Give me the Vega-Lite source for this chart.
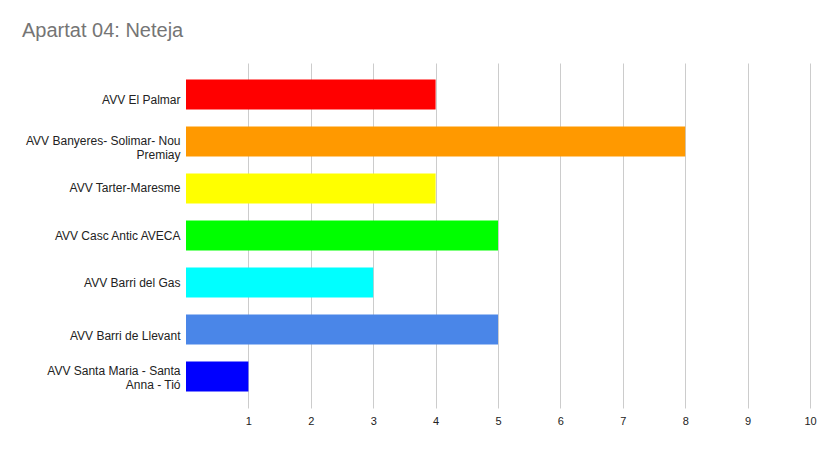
{
  "$schema": "https://vega.github.io/schema/vega-lite/v6.json",
  "width": 624,
  "height": 345,
  "autosize": {"type": "none"},
  "padding": {"left": 186, "top": 63, "right": 22, "bottom": 43},
  "background": "white",
  "title": {
    "text": "Apartat 04: Neteja",
    "anchor": "start",
    "frame": "group",
    "dx": -164,
    "offset": 22,
    "font": "Liberation Sans",
    "fontSize": 20,
    "fontWeight": "normal",
    "color": "#757575"
  },
  "data": {
    "values": [
      {"label": "AVV El Palmar", "valor": 4, "color": "#ff0000"},
      {"label": "AVV Banyeres- Solimar- Nou|Premiay", "valor": 8, "color": "#ff9900"},
      {"label": "AVV Tarter-Maresme", "valor": 4, "color": "#ffff00"},
      {"label": "AVV Casc Antic AVECA", "valor": 5, "color": "#00ff00"},
      {"label": "AVV Barri del Gas", "valor": 3, "color": "#00ffff"},
      {"label": "AVV Barri de Llevant", "valor": 5, "color": "#4a86e8"},
      {"label": "AVV Santa Maria - Santa|Anna - Tió", "valor": 1, "color": "#0000ff"}
    ]
  },
  "mark": {"type": "bar"},
  "encoding": {
    "y": {
      "field": "label",
      "type": "nominal",
      "sort": null,
      "scale": {"paddingInner": 0.36, "paddingOuter": 0.35},
      "axis": {
        "title": null,
        "domain": false,
        "ticks": false,
        "labelExpr": "split(datum.label, '|')",
        "labelFont": "Liberation Sans",
        "labelFontSize": 12,
        "labelColor": "#222222",
        "labelPadding": 6,
        "labelLimit": 200,
        "labelLineHeight": 14,
        "labelOffset": {
          "condition": [
            {"test": "indexof(datum.value, 'Palmar') >= 0 || indexof(datum.value, 'Llevant') >= 0", "value": 6},
            {"test": "indexof(datum.value, 'Santa Maria') >= 0", "value": -6}
          ],
          "value": 0
        }
      }
    },
    "x": {
      "field": "valor",
      "type": "quantitative",
      "scale": {"domain": [0, 10], "nice": false},
      "axis": {
        "title": null,
        "values": [1, 2, 3, 4, 5, 6, 7, 8, 9, 10],
        "domain": false,
        "ticks": false,
        "grid": true,
        "gridColor": "#cccccc",
        "labelFont": "Liberation Sans",
        "labelFontSize": 11,
        "labelColor": "#222222",
        "labelPadding": 7,
        "labelFlush": false
      }
    },
    "color": {"field": "color", "type": "nominal", "scale": null, "legend": null}
  },
  "config": {"view": {"stroke": null}}
}
